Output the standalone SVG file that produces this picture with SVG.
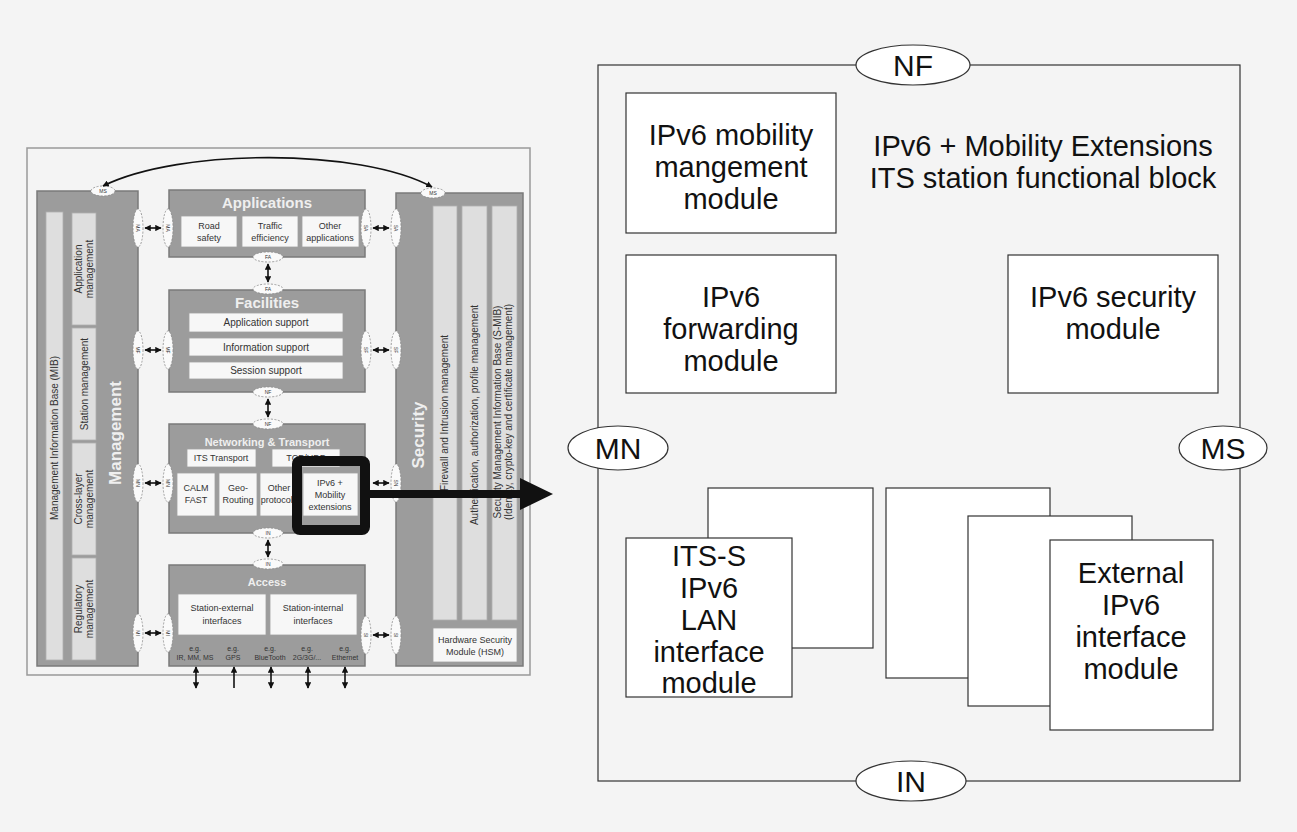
<svg xmlns="http://www.w3.org/2000/svg" width="1297" height="832" viewBox="0 0 1297 832">
<defs>
<style>
.bg{fill:#f4f4f4}
.panel{fill:#9c9c9c;stroke:#7a7a7a;stroke-width:1.5}
.strip{fill:#dedede;stroke:#b0b0b0;stroke-width:0.8}
.wbox{fill:#f7f7f7;stroke:#a0a0a0;stroke-width:0.8}
.ttl{font-family:"Liberation Sans",Arial,sans-serif;font-weight:bold;fill:#efefef;text-anchor:middle}
.t{font-family:"Liberation Sans",Arial,sans-serif;fill:#333;text-anchor:middle}
.st{font-family:"Liberation Sans",Arial,sans-serif;font-size:10px;fill:#333;text-anchor:middle}
.el{fill:#fafafa;stroke:#8a8a8a;stroke-width:0.8;stroke-dasharray:2 1.5}
.elt{font-family:"Liberation Sans",Arial,sans-serif;font-size:5px;fill:#333;text-anchor:middle}
.lnk{stroke:#111;stroke-width:1.6;fill:none}
.rbox{fill:#fff;stroke:#333;stroke-width:1.2}
.rt{font-family:"Liberation Sans",Arial,sans-serif;font-size:29px;fill:#111;text-anchor:middle}
.rl{font-family:"Liberation Sans",Arial,sans-serif;font-size:30px;fill:#111;text-anchor:middle}
.rel{fill:#fff;stroke:#333;stroke-width:1.2}
</style>
<marker id="ah" viewBox="0 0 10 10" refX="9" refY="5" markerWidth="4" markerHeight="4" orient="auto-start-reverse"><path d="M0,0 L10,5 L0,10 z" fill="#111"/></marker>
</defs>
<rect class="bg" x="0" y="0" width="1297" height="832"/>

<g id="left-frame">
<rect x="27" y="148" width="503" height="527" fill="#f4f4f4" stroke="#999" stroke-width="1.5"/>
</g>

<g id="management">
<rect class="panel" x="37" y="191" width="101" height="475"/>
<rect class="strip" x="46" y="212" width="17" height="448"/>
<text class="st" transform="translate(58,438) rotate(-90)">Management Information Base (MIB)</text>
<rect class="strip" x="72" y="213" width="24" height="112"/>
<text class="st" transform="translate(84,269) rotate(-90)"><tspan x="0" y="-2">Application</tspan><tspan x="0" y="9">management</tspan></text>
<rect class="strip" x="72" y="328" width="24" height="112"/>
<text class="st" transform="translate(88,384) rotate(-90)">Station management</text>
<rect class="strip" x="72" y="443" width="24" height="112"/>
<text class="st" transform="translate(84,499) rotate(-90)"><tspan x="0" y="-2">Cross-layer</tspan><tspan x="0" y="9">management</tspan></text>
<rect class="strip" x="72" y="558" width="24" height="102"/>
<text class="st" transform="translate(84,609) rotate(-90)"><tspan x="0" y="-2">Regulatory</tspan><tspan x="0" y="9">management</tspan></text>
<text class="ttl" font-size="17" transform="translate(121,433) rotate(-90)">Management</text>
</g>

<g id="security">
<rect class="panel" x="396" y="193" width="127" height="473"/>
<rect class="strip" x="433" y="206" width="24" height="414"/>
<text class="st" transform="translate(448,413) rotate(-90)">Firewall and Intrusion management</text>
<rect class="strip" x="462" y="206" width="25" height="414"/>
<text class="st" transform="translate(478,415) rotate(-90)">Authentication, authorization, profile management</text>
<rect class="strip" x="492" y="206" width="25" height="414"/>
<text class="st" transform="translate(501,412) rotate(-90)"><tspan x="0" y="0">Security Management Information Base (S-MIB)</tspan><tspan x="0" y="11">(Identity, crypto-key and certificate management)</tspan></text>
<rect class="wbox" x="433" y="628" width="84" height="34"/>
<text class="t" font-size="9"><tspan x="475" y="643">Hardware Security</tspan><tspan x="475" y="655">Module (HSM)</tspan></text>
<text class="ttl" font-size="17" transform="translate(424,435) rotate(-90)">Security</text>
</g>

<g id="applications">
<rect class="panel" x="169" y="190" width="196" height="67"/>
<text class="ttl" font-size="15" x="267" y="208">Applications</text>
<rect class="wbox" x="181" y="216" width="56" height="31"/>
<text class="t" font-size="9"><tspan x="209" y="229">Road</tspan><tspan x="209" y="241">safety</tspan></text>
<rect class="wbox" x="242" y="216" width="56" height="31"/>
<text class="t" font-size="9"><tspan x="270" y="229">Traffic</tspan><tspan x="270" y="241">efficiency</tspan></text>
<rect class="wbox" x="302" y="216" width="57" height="31"/>
<text class="t" font-size="9"><tspan x="330" y="229">Other</tspan><tspan x="330" y="241">applications</tspan></text>
</g>

<g id="facilities">
<rect class="panel" x="169" y="290" width="196" height="102"/>
<text class="ttl" font-size="15" x="267" y="308">Facilities</text>
<rect class="wbox" x="189" y="313" width="154" height="19"/>
<text class="t" font-size="10" x="266" y="326">Application support</text>
<rect class="wbox" x="189" y="338" width="154" height="18"/>
<text class="t" font-size="10" x="266" y="351">Information support</text>
<rect class="wbox" x="189" y="362" width="154" height="17"/>
<text class="t" font-size="10" x="266" y="374">Session support</text>
</g>

<g id="networking">
<rect class="panel" x="169" y="424" width="196" height="109"/>
<text class="ttl" font-size="11" x="267" y="446">Networking &amp; Transport</text>
<rect class="wbox" x="187" y="449" width="69" height="18"/>
<text class="t" font-size="9" x="221" y="461">ITS Transport</text>
<rect class="wbox" x="272" y="449" width="68" height="18"/>
<text class="t" font-size="9" x="306" y="461">TCP/UDP</text>
<rect class="wbox" x="177" y="473" width="38" height="43"/>
<text class="t" font-size="9"><tspan x="196" y="491">CALM</tspan><tspan x="196" y="503">FAST</tspan></text>
<rect class="wbox" x="219" y="473" width="38" height="43"/>
<text class="t" font-size="9"><tspan x="238" y="491">Geo-</tspan><tspan x="238" y="503">Routing</tspan></text>
<rect class="wbox" x="260" y="473" width="38" height="43"/>
<text class="t" font-size="9"><tspan x="279" y="491">Other</tspan><tspan x="279" y="503">protocols</tspan></text>
</g>

<g id="access">
<rect class="panel" x="169" y="565" width="196" height="101"/>
<text class="ttl" font-size="11" x="267" y="586">Access</text>
<rect class="wbox" x="178" y="594" width="88" height="41"/>
<text class="t" font-size="9"><tspan x="222" y="611">Station-external</tspan><tspan x="222" y="624">interfaces</tspan></text>
<rect class="wbox" x="270" y="594" width="87" height="41"/>
<text class="t" font-size="9"><tspan x="313" y="611">Station-internal</tspan><tspan x="313" y="624">interfaces</tspan></text>
<text class="t" font-size="7" fill="#222"><tspan x="195" y="651">e.g.</tspan><tspan x="195" y="660">IR, MM, MS</tspan></text>
<text class="t" font-size="7" fill="#222"><tspan x="233" y="651">e.g.</tspan><tspan x="233" y="660">GPS</tspan></text>
<text class="t" font-size="7" fill="#222"><tspan x="270" y="651">e.g.</tspan><tspan x="270" y="660">BlueTooth</tspan></text>
<text class="t" font-size="7" fill="#222"><tspan x="307" y="651">e.g.</tspan><tspan x="307" y="660">2G/3G/...</tspan></text>
<text class="t" font-size="7" fill="#222"><tspan x="345" y="651">e.g.</tspan><tspan x="345" y="660">Ethernet</tspan></text>
</g>

<g id="ipv6-mobility-ext">
<rect class="wbox" x="303" y="473" width="55" height="43"/>
<text class="t" font-size="9"><tspan x="330" y="486">IPv6 +</tspan><tspan x="330" y="498">Mobility</tspan><tspan x="330" y="510">extensions</tspan></text>
<rect x="297" y="461" width="68" height="69" rx="3" fill="none" stroke="#111" stroke-width="10"/>
</g>

<g id="sap-ellipses">
<ellipse class="el" cx="103" cy="191" rx="12" ry="5"/><text class="elt" x="103" y="193">MS</text>
<ellipse class="el" cx="433" cy="193" rx="12" ry="5"/><text class="elt" x="433" y="195">MS</text>
<ellipse class="el" cx="138" cy="228" rx="5" ry="19"/><text class="elt" transform="translate(136,228) rotate(90)">MA</text>
<ellipse class="el" cx="168" cy="228" rx="5" ry="19"/><text class="elt" transform="translate(166,228) rotate(90)">MA</text>
<ellipse class="el" cx="366" cy="228" rx="5" ry="19"/><text class="elt" transform="translate(364,228) rotate(90)">SA</text>
<ellipse class="el" cx="396" cy="228" rx="5" ry="19"/><text class="elt" transform="translate(394,228) rotate(90)">SA</text>
<ellipse class="el" cx="268" cy="257" rx="15" ry="5"/><text class="elt" x="268" y="259">FA</text>
<ellipse class="el" cx="268" cy="289" rx="15" ry="5"/><text class="elt" x="268" y="291">FA</text>
<ellipse class="el" cx="138" cy="350" rx="5" ry="19"/><text class="elt" transform="translate(136,350) rotate(90)">MF</text>
<ellipse class="el" cx="168" cy="350" rx="5" ry="19"/><text class="elt" transform="translate(166,350) rotate(90)">MF</text>
<ellipse class="el" cx="366" cy="350" rx="5" ry="19"/><text class="elt" transform="translate(364,350) rotate(90)">SF</text>
<ellipse class="el" cx="396" cy="350" rx="5" ry="19"/><text class="elt" transform="translate(394,350) rotate(90)">SF</text>
<ellipse class="el" cx="268" cy="392" rx="15" ry="5"/><text class="elt" x="268" y="394">NF</text>
<ellipse class="el" cx="268" cy="424" rx="15" ry="5"/><text class="elt" x="268" y="426">NF</text>
<ellipse class="el" cx="138" cy="483" rx="5" ry="19"/><text class="elt" transform="translate(136,483) rotate(90)">MN</text>
<ellipse class="el" cx="168" cy="483" rx="5" ry="19"/><text class="elt" transform="translate(166,483) rotate(90)">MN</text>
<ellipse class="el" cx="396" cy="483" rx="5" ry="19"/><text class="elt" transform="translate(394,483) rotate(90)">SN</text>
<ellipse class="el" cx="268" cy="533" rx="15" ry="5"/><text class="elt" x="268" y="535">IN</text>
<ellipse class="el" cx="268" cy="564" rx="15" ry="5"/><text class="elt" x="268" y="566">IN</text>
<ellipse class="el" cx="138" cy="633" rx="5" ry="19"/><text class="elt" transform="translate(136,633) rotate(90)">MI</text>
<ellipse class="el" cx="168" cy="633" rx="5" ry="19"/><text class="elt" transform="translate(166,633) rotate(90)">MI</text>
<ellipse class="el" cx="366" cy="635" rx="5" ry="19"/><text class="elt" transform="translate(364,635) rotate(90)">SI</text>
<ellipse class="el" cx="396" cy="635" rx="5" ry="19"/><text class="elt" transform="translate(394,635) rotate(90)">SI</text>
</g>

<g id="connectors">
<path class="lnk" d="M103,186 C180,148 360,148 432,187" marker-start="url(#ah)" marker-end="url(#ah)"/>
<line class="lnk" x1="145" y1="228" x2="161" y2="228" marker-start="url(#ah)" marker-end="url(#ah)"/>
<line class="lnk" x1="373" y1="228" x2="389" y2="228" marker-start="url(#ah)" marker-end="url(#ah)"/>
<line class="lnk" x1="268" y1="264" x2="268" y2="282" marker-start="url(#ah)" marker-end="url(#ah)"/>
<line class="lnk" x1="145" y1="350" x2="161" y2="350" marker-start="url(#ah)" marker-end="url(#ah)"/>
<line class="lnk" x1="373" y1="350" x2="389" y2="350" marker-start="url(#ah)" marker-end="url(#ah)"/>
<line class="lnk" x1="268" y1="399" x2="268" y2="417" marker-start="url(#ah)" marker-end="url(#ah)"/>
<line class="lnk" x1="145" y1="483" x2="161" y2="483" marker-start="url(#ah)" marker-end="url(#ah)"/>
<line class="lnk" x1="373" y1="483" x2="389" y2="483" marker-start="url(#ah)" marker-end="url(#ah)"/>
<line class="lnk" x1="268" y1="540" x2="268" y2="557" marker-start="url(#ah)" marker-end="url(#ah)"/>
<line class="lnk" x1="145" y1="633" x2="161" y2="633" marker-start="url(#ah)" marker-end="url(#ah)"/>
<line class="lnk" x1="373" y1="635" x2="389" y2="635" marker-start="url(#ah)" marker-end="url(#ah)"/>
<line class="lnk" stroke-width="1" x1="196" y1="667" x2="196" y2="688" marker-start="url(#ah)" marker-end="url(#ah)"/>
<line class="lnk" stroke-width="1" x1="234" y1="667" x2="234" y2="688" marker-start="url(#ah)"/>
<line class="lnk" stroke-width="1" x1="271" y1="667" x2="271" y2="688" marker-start="url(#ah)" marker-end="url(#ah)"/>
<line class="lnk" stroke-width="1" x1="308" y1="667" x2="308" y2="688" marker-start="url(#ah)" marker-end="url(#ah)"/>
<line class="lnk" stroke-width="1" x1="345" y1="667" x2="345" y2="688" marker-start="url(#ah)" marker-end="url(#ah)"/>
<line x1="365" y1="494" x2="522" y2="494" stroke="#111" stroke-width="8"/>
<polygon points="520,478 553,494 520,510" fill="#111"/>
</g>

<g id="its-block">
<rect x="598" y="65" width="642" height="716" fill="none" stroke="#333" stroke-width="1.2"/>
</g>
<g id="title">
<text class="rt"><tspan x="1043" y="156">IPv6 + Mobility Extensions</tspan><tspan x="1043" y="188">ITS station functional block</tspan></text>
</g>
<g id="nf"><ellipse class="rel" cx="913" cy="65" rx="57" ry="20"/><text class="rl" x="913" y="76">NF</text></g>
<g id="mn"><ellipse class="rel" cx="618" cy="448" rx="50" ry="22"/><text class="rl" x="618" y="459">MN</text></g>
<g id="ms"><ellipse class="rel" cx="1223" cy="448" rx="44" ry="22"/><text class="rl" x="1223" y="459">MS</text></g>
<g id="in"><ellipse class="rel" cx="911" cy="781" rx="55" ry="20"/><text class="rl" x="911" y="792">IN</text></g>

<g id="mobility-mgmt">
<rect class="rbox" x="626" y="93" width="210" height="140"/>
<text class="rt"><tspan x="731" y="145">IPv6 mobility</tspan><tspan x="731" y="177">mangement</tspan><tspan x="731" y="209">module</tspan></text>
</g>
<g id="forwarding">
<rect class="rbox" x="626" y="255" width="210" height="138"/>
<text class="rt"><tspan x="731" y="307">IPv6</tspan><tspan x="731" y="339">forwarding</tspan><tspan x="731" y="371">module</tspan></text>
</g>
<g id="security-mod">
<rect class="rbox" x="1008" y="255" width="210" height="138"/>
<text class="rt"><tspan x="1113" y="307">IPv6 security</tspan><tspan x="1113" y="339">module</tspan></text>
</g>
<g id="lan-if">
<rect class="rbox" x="708" y="488" width="165" height="160"/>
<rect class="rbox" x="626" y="538" width="166" height="159"/>
<text class="rt"><tspan x="709" y="566">ITS-S</tspan><tspan x="709" y="598">IPv6</tspan><tspan x="709" y="630">LAN</tspan><tspan x="709" y="662">interface</tspan><tspan x="709" y="693">module</tspan></text>
</g>
<g id="ext-if">
<rect class="rbox" x="886" y="488" width="164" height="190"/>
<rect class="rbox" x="968" y="516" width="164" height="190"/>
<rect class="rbox" x="1050" y="540" width="163" height="190"/>
<text class="rt"><tspan x="1131" y="583">External</tspan><tspan x="1131" y="615">IPv6</tspan><tspan x="1131" y="647">interface</tspan><tspan x="1131" y="679">module</tspan></text>
</g>
</svg>
